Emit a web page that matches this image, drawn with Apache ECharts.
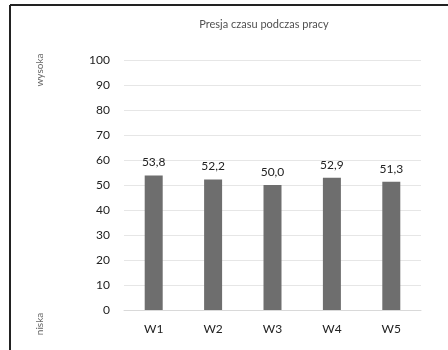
<!DOCTYPE html>
<html>
<head>
<meta charset="utf-8">
<script src="https://cdn.jsdelivr.net/npm/echarts@6/dist/echarts.min.js"></script>
<style>
  html, body { margin: 0; padding: 0; background: #ffffff; }
  #chart { width: 448px; height: 350px; }
</style>
</head>
<body>
<div id="chart"></div>
<script>
// Categories and values for the bar chart
const categories = ['W1', 'W2', 'W3', 'W4', 'W5'];
const values = [53.8, 52.2, 50.0, 52.9, 51.3];
const chartTitle = 'Presja czasu podczas pracy';
const topLabel = 'wysoka';
const bottomLabel = 'niska';

const chart = echarts.init(document.getElementById('chart'), null, { renderer: 'canvas' });

const fontFamily = 'Lato, "Open Sans", sans-serif';

chart.setOption({
  animation: false,
  backgroundColor: '#ffffff',
  title: {
    text: chartTitle,
    left: 259,
    top: 14,
    textAlign: 'center',
    textStyle: { fontFamily, fontSize: 11, fontWeight: 'normal', color: '#505050' }
  },
  grid: { left: 124, right: 27, top: 60, bottom: 40, containLabel: false },
  xAxis: {
    type: 'category',
    data: categories,
    axisLine: { show: true, lineStyle: { color: '#d9d9d9', width: 1 } },
    axisTick: { show: false },
    axisLabel: { fontFamily, fontSize: 12, color: '#222222', margin: 13 }
  },
  yAxis: {
    type: 'value',
    min: 0,
    max: 100,
    interval: 10,
    axisLine: { show: false },
    axisTick: { show: false },
    axisLabel: { fontFamily, fontSize: 12, color: '#222222', margin: 14 },
    splitLine: { show: true, lineStyle: { color: '#e6e6e6', width: 1 } }
  },
  series: [{
    type: 'bar',
    data: values,
    barWidth: 18,
    itemStyle: { color: '#6e6e6e' },
    label: {
      show: true,
      position: 'top',
      distance: 7,
      fontFamily,
      fontSize: 12,
      color: '#222222',
      formatter: p => p.value.toFixed(1).replace('.', ',')
    }
  }],
  graphic: [
    // frame edges
    { type: 'line', shape: { x1: 10, y1: 5, x2: 448, y2: 5 }, style: { stroke: '#222222', lineWidth: 2 } },
    { type: 'line', shape: { x1: 10, y1: 5, x2: 10, y2: 350 }, style: { stroke: '#222222', lineWidth: 2 } },
    // side captions
    {
      type: 'text', x: 40, y: 70, rotation: Math.PI / 2,
      style: { text: topLabel, fontFamily, fontSize: 10, fill: '#666666', textAlign: 'center', textVerticalAlign: 'middle' }
    },
    {
      type: 'text', x: 40, y: 324, rotation: Math.PI / 2,
      style: { text: bottomLabel, fontFamily, fontSize: 10, fill: '#666666', textAlign: 'center', textVerticalAlign: 'middle' }
    }
  ]
});
</script>
</body>
</html>
